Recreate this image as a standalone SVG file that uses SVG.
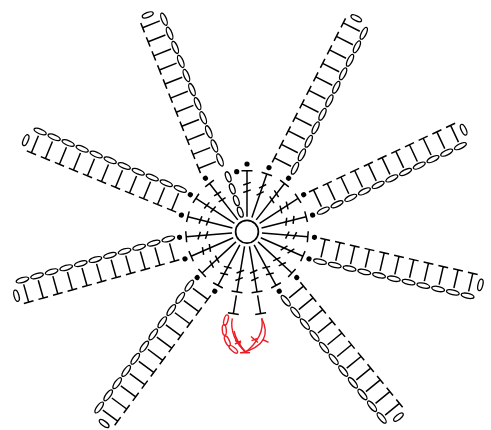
<svg xmlns="http://www.w3.org/2000/svg" width="491" height="430" viewBox="0 0 491 430">
<style>
.k{fill:none;stroke:#000;stroke-width:1.5;stroke-linecap:butt}
.o{fill:#fff;stroke:#000;stroke-width:1.3}
.r{fill:none;stroke:#ed1c24;stroke-width:1.4}
.d{fill:#000;stroke:none}
</style>
<defs>
<g id="cell">
<path class="k" d="M0-4.500V-23M-5-23H5"/>
<ellipse class="o" cx="0" cy="0" rx="6.500" ry="2.400"/>
</g>
<g id="arm">
<use href="#cell"/>
<use href="#cell" x="15.15"/>
<use href="#cell" x="30.3"/>
<use href="#cell" x="45.45"/>
<use href="#cell" x="60.6"/>
<use href="#cell" x="75.75"/>
<use href="#cell" x="90.9"/>
<use href="#cell" x="106.05"/>
<use href="#cell" x="121.2"/>
<use href="#cell" x="136.35"/>
<use href="#cell" x="151.5"/>
<ellipse class="o" cx="161.5" cy="-13.5" rx="2.400" ry="5.800"/>
</g>
<g id="sp">
<path class="k" d="M0-15V-61M-5.5-61H5.5"/>
</g>
<circle id="dot" class="d" cx="0" cy="-67.7" r="2.6"/>
<path id="tk" class="k" d="M-4 0H4"/>
</defs>
<g id="arms">
<use id="arm1" href="#arm" transform="translate(220 160) rotate(-111.7)"/>
<use id="arm2" href="#arm" transform="translate(295 168.3) rotate(-63)"/>
<use id="arm3" href="#arm" transform="translate(323.3 210.7) rotate(-25.2)"/>
<use id="arm4" href="#arm" transform="translate(320 261.7) rotate(13)"/>
<use id="arm5" href="#arm" transform="translate(285.7 300.7) rotate(50.7)"/>
<use id="arm6" href="#arm" transform="translate(189.3 285.7) rotate(126.5)"/>
<use id="arm7" href="#arm" transform="translate(168.3 239) rotate(164.3)"/>
<use id="arm8" href="#arm" transform="translate(180.3 189) rotate(-157.7)"/>
</g>
<g id="spokes" transform="translate(247 231.7)">
<g id="s0"><use href="#sp"/><use href="#dot"/><use href="#tk" transform="translate(0 -40.5) rotate(-20)"/><use href="#tk" transform="translate(0 -48) rotate(-20)"/></g>
<g id="s1" transform="rotate(18.95)"><use href="#sp"/><use href="#dot"/><use href="#tk" transform="translate(0 -40.5) rotate(-45)"/><use href="#tk" transform="translate(0 -48) rotate(-45)"/></g>
<g id="s2" transform="rotate(37.89)"><use href="#sp"/><use href="#dot"/><use href="#tk" transform="translate(0 -40.5) rotate(20)"/><use href="#tk" transform="translate(0 -48) rotate(20)"/></g>
<g id="s3" transform="rotate(56.84)"><use href="#sp"/><use href="#dot"/><use href="#tk" transform="translate(0 -40.5) rotate(20)"/><use href="#tk" transform="translate(0 -48) rotate(20)"/></g>
<g id="s4" transform="rotate(75.79)"><use href="#sp"/><use href="#dot"/><use href="#tk" transform="translate(0 -40.5) rotate(20)"/><use href="#tk" transform="translate(0 -48) rotate(20)"/></g>
<g id="s5" transform="rotate(94.74)"><use href="#sp"/><use href="#dot"/><use href="#tk" transform="translate(0 -40.5) rotate(22)"/><use href="#tk" transform="translate(0 -48) rotate(22)"/></g>
<g id="s6" transform="rotate(113.68)"><use href="#sp"/><use href="#dot"/><use href="#tk" transform="translate(0 -40.5) rotate(35)"/><use href="#tk" transform="translate(0 -48) rotate(35)"/></g>
<g id="s7" transform="rotate(132.63)"><use href="#sp"/><use href="#dot"/><use href="#tk" transform="translate(0 -40.5) rotate(22)"/><use href="#tk" transform="translate(0 -48) rotate(22)"/></g>
<g id="s8" transform="rotate(151.58)"><use href="#sp"/><use href="#dot"/><use href="#tk" transform="translate(0 -40.5) rotate(15)"/><use href="#tk" transform="translate(0 -48) rotate(15)"/></g>
<g id="s9" transform="rotate(170.53)"><use href="#sp"/><use href="#tk" transform="translate(0 -40.5) rotate(-15)"/><use href="#tk" transform="translate(0 -48) rotate(-15)"/><path class="k" d="M0-64.5V-83M-5.5-83H5.5"/></g>
<g id="s10" transform="rotate(189.47)"><use href="#sp"/><use href="#tk" transform="translate(0 -40.5) rotate(-30)"/><use href="#tk" transform="translate(0 -48) rotate(-30)"/><path class="k" d="M0-64.5V-83M-5.5-83H5.5"/></g>
<g id="s11" transform="rotate(208.42)"><use href="#sp"/><use href="#dot"/><use href="#tk" transform="translate(0 -40.5) rotate(-15)"/><use href="#tk" transform="translate(0 -48) rotate(-15)"/></g>
<g id="s12" transform="rotate(227.37)"><use href="#sp"/><use href="#dot"/><use href="#tk" transform="translate(0 -40.5) rotate(15)"/><use href="#tk" transform="translate(0 -48) rotate(15)"/></g>
<g id="s13" transform="rotate(246.32)"><use href="#sp"/><use href="#dot"/><use href="#tk" transform="translate(0 -40.5) rotate(15)"/><use href="#tk" transform="translate(0 -48) rotate(15)"/></g>
<g id="s14" transform="rotate(265.26)"><use href="#sp"/><use href="#dot"/><use href="#tk" transform="translate(0 -40.5) rotate(22)"/><use href="#tk" transform="translate(0 -48) rotate(22)"/></g>
<g id="s15" transform="rotate(284.21)"><use href="#sp"/><use href="#dot"/><use href="#tk" transform="translate(0 -40.5) rotate(7)"/><use href="#tk" transform="translate(0 -48) rotate(7)"/></g>
<g id="s16" transform="rotate(303.16)"><use href="#sp"/><use href="#dot"/><use href="#tk" transform="translate(0 -40.5) rotate(7)"/><use href="#tk" transform="translate(0 -48) rotate(7)"/></g>
<g id="s17" transform="rotate(322.11)"><use href="#sp"/><use href="#dot"/><use href="#tk" transform="translate(0 -40.5) rotate(7)"/><use href="#tk" transform="translate(0 -48) rotate(7)"/></g>
<g id="chain" transform="rotate(341.05)">
<ellipse class="o" cx="0" cy="-20.7" rx="2.400" ry="5.300"/>
<ellipse class="o" cx="0" cy="-32.8" rx="2.400" ry="5.300"/>
<ellipse class="o" cx="0" cy="-45.3" rx="2.400" ry="5.300"/>
<ellipse class="o" cx="0" cy="-58" rx="2.400" ry="5.300"/>
</g>
</g>
<circle id="chainDot" class="d" cx="236.7" cy="171.7" r="2.6"/>
<g id="ring"><circle cx="247" cy="231.7" r="11.4" fill="#fff" stroke="#000" stroke-width="1.7"/></g>
<g id="red">
<ellipse class="r" cx="226" cy="320" rx="2" ry="5.3" transform="rotate(15 226 320)"/>
<ellipse class="r" cx="224.3" cy="330" rx="2" ry="5.3" transform="rotate(-5 224.3 330)"/>
<ellipse class="r" cx="227.3" cy="341" rx="2" ry="5.3" transform="rotate(-25 227.3 341)"/>
<ellipse class="r" cx="233.3" cy="349.3" rx="2" ry="5.3" transform="rotate(-50 233.3 349.3)"/>
<path class="r" d="M232.3 318.3C230 330 235 343.3 246.7 352.7"/>
<path class="r" d="M234 331C236 340 241 347 246 352.7"/>
<path class="r" d="M261.7 318.3C270 335 264 347 241.7 352.7"/>
<path class="r" d="M261.7 318.3C264 330 258 342 245 352.7"/>
<path class="r" d="M240 352.7H250"/>
<path class="r" d="M235 340.5L241 343M235 344L241 341"/>
<path class="r" d="M251.500 340.700L257.500 338.500M251 336.500L258 342.500"/>
<path class="r" d="M262.500 339.500L268.500 342.300"/>
</g>
</svg>
